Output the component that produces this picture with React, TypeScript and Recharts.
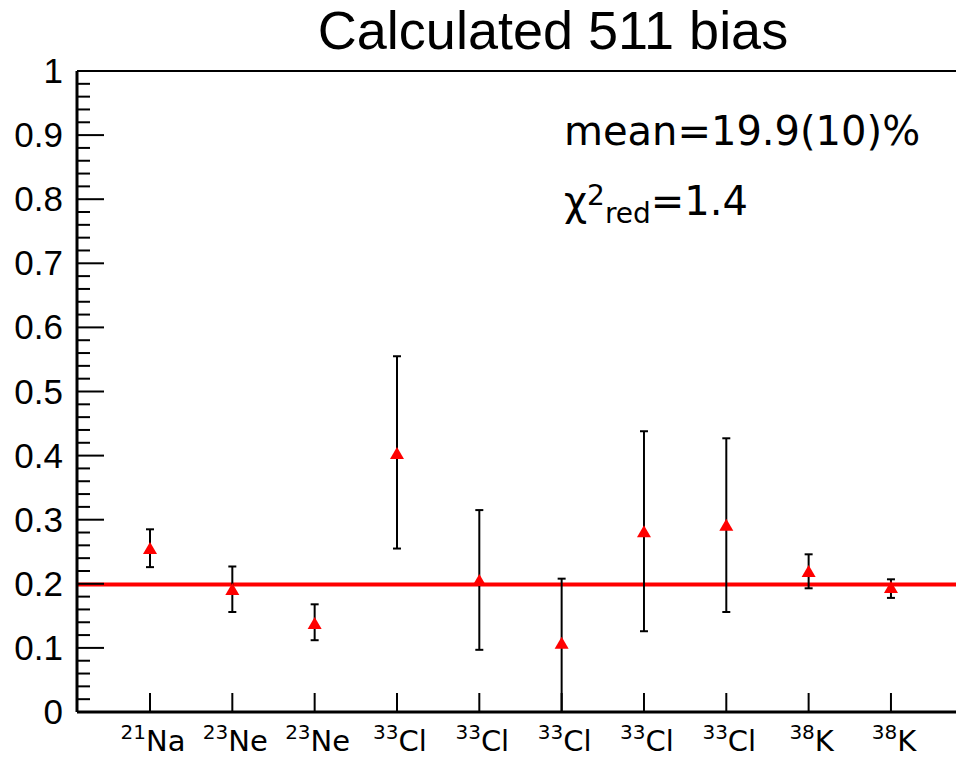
import React from 'react';
import { ComposedChart, Scatter, XAxis, YAxis, ErrorBar, ReferenceLine, Customized } from 'recharts';

const categoryPositions = [1, 2, 3, 4, 5, 6, 7, 8, 9, 10];
const isotopeMass = ['21', '23', '23', '33', '33', '33', '33', '33', '38', '38'];
const isotopeElement = ['Na', 'Ne', 'Ne', 'Cl', 'Cl', 'Cl', 'Cl', 'Cl', 'K', 'K'];
const biasValues = [0.256, 0.192, 0.139, 0.404, 0.206, 0.108, 0.282, 0.292, 0.22, 0.195];
const errorLow = [0.03, 0.036, 0.027, 0.149, 0.109, 0.108, 0.156, 0.136, 0.027, 0.017];
const errorHigh = [0.029, 0.035, 0.029, 0.151, 0.109, 0.1, 0.156, 0.135, 0.026, 0.012];
const meanBias = 0.199;
const yMajorTicks = [0, 0.1, 0.2, 0.3, 0.4, 0.5, 0.6, 0.7, 0.8, 0.9, 1];
const yMajorLabels = ['0', '0.1', '0.2', '0.3', '0.4', '0.5', '0.6', '0.7', '0.8', '0.9', '1'];
const titleText = 'Calculated 511 bias';
const meanText = 'mean=19.9(10)%';
const chiValue = '=1.4';

const data = categoryPositions.map((x, i) => ({
  x,
  y: biasValues[i],
  err: [errorLow[i], errorHigh[i]],
}));

// all y ticks: majors plus 4 minor subdivisions
const yAllTicks: number[] = [];
for (let i = 0; i < yMajorTicks.length; i++) {
  yAllTicks.push(yMajorTicks[i]);
  if (i < yMajorTicks.length - 1) {
    for (let k = 1; k < 5; k++) {
      yAllTicks.push(Math.round((yMajorTicks[i] + (k * (yMajorTicks[i + 1] - yMajorTicks[i])) / 5) * 1000) / 1000);
    }
  }
}

const XTick = (props: any) => {
  const { x, y, payload } = props;
  const idx = categoryPositions.indexOf(payload.value);
  if (idx < 0) return null;
  return (
    <g>
      <line x1={x} y1={y} x2={x} y2={y - 19} stroke="#000" strokeWidth={2} />
      <text x={x + 3} y={y + 39} textAnchor="middle" fontFamily="DejaVu Sans" fill="#000">
        <tspan fontSize={20} dy={-12}>{isotopeMass[idx]}</tspan>
        <tspan fontSize={29} dy={12}>{isotopeElement[idx]}</tspan>
      </text>
    </g>
  );
};

const YTick = (props: any) => {
  const { x, y, payload } = props;
  const v = payload.value;
  const majorIdx = yMajorTicks.findIndex((m) => Math.abs(m - v) < 1e-6);
  const isMajor = majorIdx >= 0;
  return (
    <g>
      <line x1={x} y1={y} x2={x + (isMajor ? 27 : 13)} y2={y} stroke="#000" strokeWidth={2} />
      {isMajor && (
        <text
          x={x - 14}
          y={y}
          dy={12}
          textAnchor="end"
          fontFamily="Liberation Sans"
          fontSize={35}
          fill="#000"
        >
          {yMajorLabels[majorIdx]}
        </text>
      )}
    </g>
  );
};

const Triangle = (props: any) => {
  const { cx, cy } = props;
  if (cx == null || cy == null) return null;
  return <polygon points={`${cx},${cy - 6} ${cx - 7},${cy + 6} ${cx + 7},${cy + 6}`} fill="#ff0000" />;
};

const Empty = () => <g />;

const Annotations = () => (
  <g>
    <text x={553} y={49} textAnchor="middle" fontFamily="Liberation Sans" fontSize={54} fill="#000">
      {titleText}
    </text>
    <text x={564} y={145} fontFamily="DejaVu Sans" fontSize={40} fill="#000">
      {meanText}
    </text>
    <text x={564} y={215} fontFamily="DejaVu Sans" fontSize={40} fill="#000">
      <tspan>χ</tspan>
      <tspan fontSize={28} dy={-10}>2</tspan>
      <tspan fontSize={28} dy={18}>red</tspan>
      <tspan fontSize={40} dy={-8}>{chiValue}</tspan>
    </text>
  </g>
);

export default function App() {
  return (
    <div style={{ position: 'absolute', left: 0, top: 0, width: 956, height: 758, background: '#fff', overflow: 'hidden' }}>
      <ComposedChart width={956} height={758} margin={{ top: 71, right: 0, bottom: 16, left: 0 }}>
        <XAxis
          type="number"
          dataKey="x"
          domain={[0.1134, 10.79]}
          ticks={categoryPositions}
          interval={0}
          allowDataOverflow
          height={30}
          tickSize={0}
          tickMargin={0}
          tickLine={false}
          axisLine={{ stroke: '#000', strokeWidth: 3 }}
          tick={<XTick />}
        />
        <YAxis
          type="number"
          dataKey="y"
          domain={[0, 1]}
          ticks={yAllTicks}
          interval={0}
          allowDataOverflow
          width={77}
          tickSize={0}
          tickMargin={0}
          tickLine={false}
          axisLine={{ stroke: '#000', strokeWidth: 3 }}
          tick={<YTick />}
        />
        <ReferenceLine y={1} stroke="#000" strokeWidth={2} ifOverflow="visible" />
        <ReferenceLine y={meanBias} stroke="#ff0000" strokeWidth={4} />
        <Scatter data={data} dataKey="y" isAnimationActive={false} shape={<Empty />}>
          <ErrorBar dataKey="err" direction="y" width={4} stroke="#000" strokeWidth={2} isAnimationActive={false} />
        </Scatter>
        <Scatter data={data} dataKey="y" isAnimationActive={false} shape={<Triangle />} />
        <Customized component={<Annotations />} />
      </ComposedChart>
    </div>
  );
}
